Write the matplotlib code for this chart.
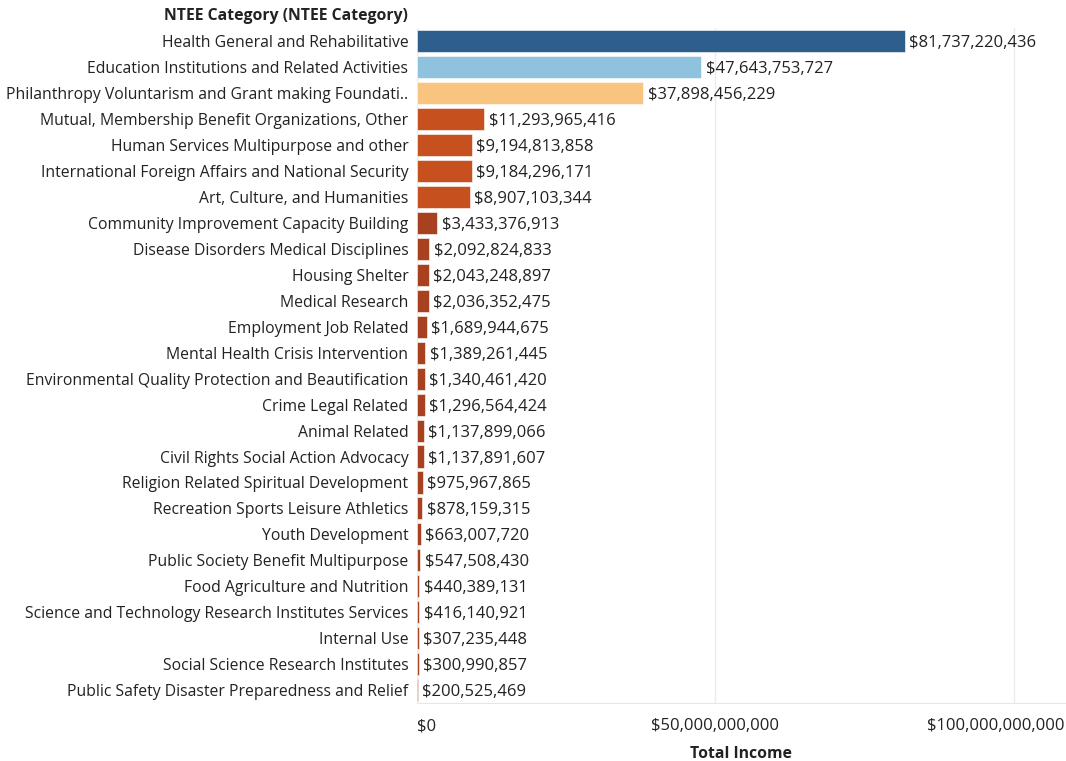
import matplotlib.pyplot as plt
import matplotlib.transforms as mtransforms
from matplotlib.ticker import FuncFormatter

categories = [
    "Health General and Rehabilitative",
    "Education Institutions and Related Activities",
    "Philanthropy Voluntarism and Grant making Foundati..",
    "Mutual, Membership Benefit Organizations, Other",
    "Human Services Multipurpose and other",
    "International Foreign Affairs and National Security",
    "Art, Culture, and Humanities",
    "Community Improvement Capacity Building",
    "Disease Disorders Medical Disciplines",
    "Housing Shelter",
    "Medical Research",
    "Employment Job Related",
    "Mental Health Crisis Intervention",
    "Environmental Quality Protection and Beautification",
    "Crime Legal Related",
    "Animal Related",
    "Civil Rights Social Action Advocacy",
    "Religion Related Spiritual Development",
    "Recreation Sports Leisure Athletics",
    "Youth Development",
    "Public Society Benefit Multipurpose",
    "Food Agriculture and Nutrition",
    "Science and Technology Research Institutes Services",
    "Internal Use",
    "Social Science Research Institutes",
    "Public Safety Disaster Preparedness and Relief",
]
total_income = [
    81737220436, 47643753727, 37898456229, 11293965416, 9194813858,
    9184296171, 8907103344, 3433376913, 2092824833, 2043248897,
    2036352475, 1689944675, 1389261445, 1340461420, 1296564424,
    1137899066, 1137891607, 975967865, 878159315, 663007720,
    547508430, 440389131, 416140921, 307235448, 300990857, 200525469,
]
colors = ["#2e5f8c", "#8fc2df", "#f8c47f"] + ["#c6511f"] * 4 + ["#a8411f"] * 19

plt.rcParams['font.family'] = ['Open Sans', 'DejaVu Sans']
txt = "#222222"

fig = plt.figure(figsize=(10.66, 7.61), dpi=100)
ax = fig.add_axes([0.391, 0.076, 0.609, 0.887])

y = list(range(len(categories)))
ax.barh(y, total_income, height=0.85, color=colors, edgecolor="white", linewidth=0.4)
for yi, v in zip(y, total_income):
    ax.text(v + 0.75e9, yi, "${:,}".format(v), va="center_baseline", ha="left",
            fontsize=12, color=txt)

ax.set_ylim(len(categories) - 0.5, -0.5)
ax.set_xlim(0, 108.7e9)
ax.set_yticks(y)
ax.set_yticklabels(categories, fontsize=11.3, color=txt)
ax.set_xticks([0, 50e9, 100e9])
ax.xaxis.set_major_formatter(FuncFormatter(lambda v, p: "${:,.0f}".format(v)))
ax.tick_params(axis="x", length=0, pad=11, labelsize=12, labelcolor=txt)
ax.tick_params(axis="y", length=0, pad=6)
ax.grid(axis="x", color="#ebebeb", linewidth=1)
ax.set_axisbelow(True)
for s in ["top", "right", "left"]:
    ax.spines[s].set_visible(False)
ax.spines["bottom"].set_color("#e6e6e6")
ax.set_xlabel("Total Income", fontsize=11.3, fontweight="bold", color=txt, labelpad=8)

# Tableau-style: first tick label left aligned, last one pulled inside the frame
xt = ax.get_xticklabels()
xt[0].set_ha("left")
xt[-1].set_ha("right")
xt[-1].set_transform(xt[-1].get_transform() +
                     mtransforms.ScaledTranslation(0.5, 0, fig.dpi_scale_trans))

fig.text(0.383, 0.979, "NTEE Category (NTEE Category)", ha="right", va="center",
         fontsize=11.3, fontweight="bold", color=txt)

fig.savefig("out.png", dpi=100)
